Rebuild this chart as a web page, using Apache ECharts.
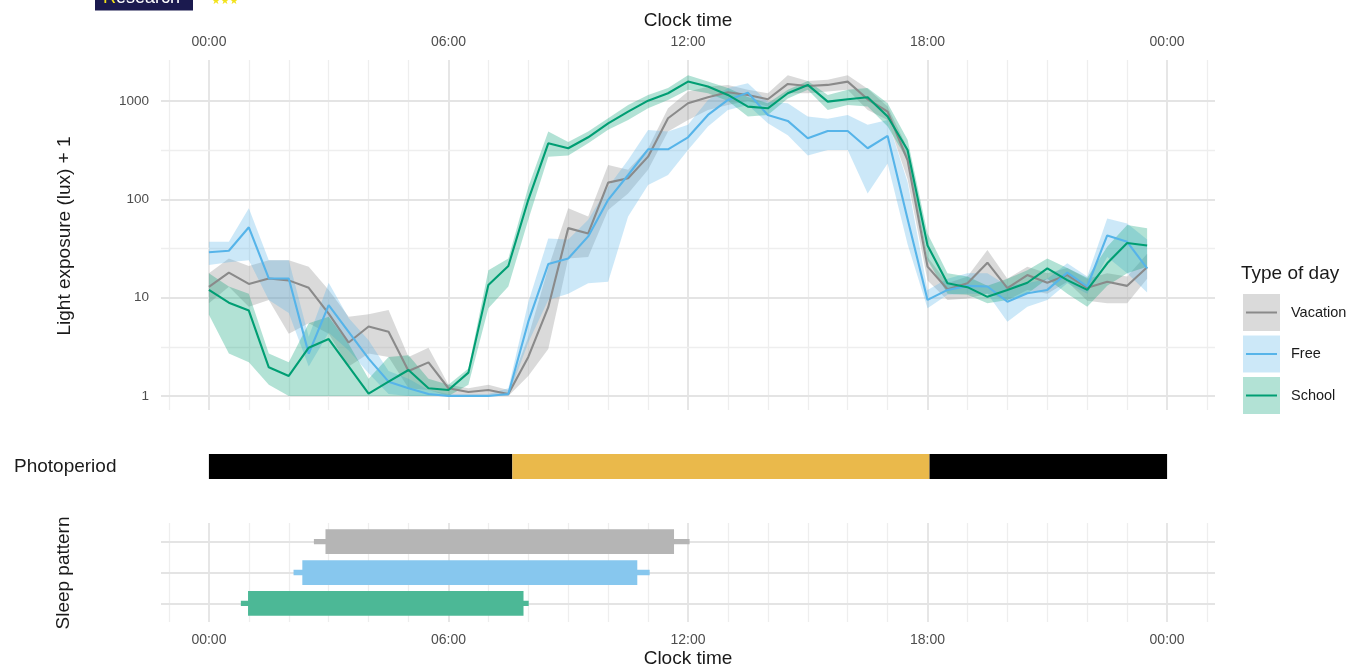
<!DOCTYPE html>
<html>
<head>
<meta charset="utf-8">
<script src="https://cdn.jsdelivr.net/npm/echarts@6/dist/echarts.min.js"></script>
<style>
  html, body { margin: 0; padding: 0; background: #ffffff; }
  #chart { width: 1348px; height: 668px; }
</style>
</head>
<body>
<div id="chart"></div>
<script>
// Half-hourly clock times (hours after midnight)
const hours = [0,0.5,1,1.5,2,2.5,3,3.5,4,4.5,5,5.5,6,6.5,7,7.5,8,8.5,9,9.5,10,10.5,11,11.5,
               12,12.5,13,13.5,14,14.5,15,15.5,16,16.5,17,17.5,18,18.5,19,19.5,20,20.5,21,21.5,22,22.5,23,23.5];

// Light exposure (lux + 1): mean and confidence band per type of day
const vacationMean = [12.9,18,13.8,15.7,15,12.6,6.9,3.5,5.1,4.5,1.8,2.2,1.2,1.1,1.15,1.05,2.5,8,51,45,
                      148,164,272,668,949,1093,1228,1154,1043,1493,1425,1459,1577,1043,780,250,20.7,12.2,14,22.7,
                      12.5,17,14.2,17,12.6,14.5,13.2,20.4];
const vacationLow  = [8.8,12.9,8.1,9.5,4.3,5.5,4.3,2,2.7,2.5,1.2,1.15,1.0,1.0,1.0,1.0,1.6,3,25,26,
                      78,115,200,490,640,810,910,1000,880,1200,1200,1250,1300,810,640,160,15,9.5,9.8,11,
                      9.5,12,11,14.5,9.3,8.8,8.8,15.6];
const vacationHigh = [17.7,25,21,24,24,20.7,12,6.4,6.8,7.5,2.5,3.1,1.3,1.2,1.3,1.15,4,20,81,67,
                      224,200,331,844,1250,1400,1459,1300,1200,1830,1600,1650,1830,1330,880,330,26,14,16.4,30.5,
                      15.6,20.7,17.7,20,15.6,17.7,16.4,28];

const freeMean = [29,30,52,15.7,15.7,2.7,8.4,4.5,2.4,1.4,1.2,1.05,1.0,1.0,1.0,1.05,5.7,22,25,42,
                  99,177,323,323,428,722,1026,1218,722,628,418,496,496,331,442,63,9.5,12,13.2,13,
                  9.1,11.1,12,18,13,43,37,19.9];
const freeLow  = [21.5,23,24,9.5,7,2,4.4,2.9,1.7,1.05,1.0,1.0,1.0,1.0,1.0,1.0,3.5,9.5,11,14,
                  14.5,67,140,177,318,550,810,910,594,450,280,318,318,115,232,35,7.8,10.7,11,11,
                  5.7,8.1,9.5,14,11,26,17.7,11.3];
const freeHigh = [37,37,81,24,24,4,14.2,6.2,3.7,1.8,1.5,1.15,1.05,1.05,1.05,1.2,9,40,39,62,
                  134,252,508,490,573,1026,1360,1520,986,950,695,660,722,573,640,150,12,15.6,17.7,17.7,
                  13.2,14,15.6,22.4,16.4,64,57,39];

const schoolMean = [12,8.9,7.4,1.96,1.6,3.1,3.8,2.0,1.06,1.4,1.84,1.2,1.15,1.73,13.5,21,99,372,331,428,
                    594,780,1009,1200,1577,1403,1154,877,844,1200,1459,986,1043,1093,695,318,34,14,12.8,10.2,
                    12,14.2,19.9,15.1,12,22.4,36,34];
const schoolLow  = [6.7,2.7,2.2,1.3,1.0,1.0,1.0,1.0,1.0,1.0,1.0,1.0,1.0,1.3,7.8,13,62,272,280,372,
                    510,640,844,1026,1300,1200,1000,695,722,1060,1300,810,910,880,550,250,24,11,10.7,8.8,
                    9.5,11,15.6,11,8.1,13.2,17.7,20.7];
const schoolHigh = [17.7,13,11,2.7,2.2,5.5,6.4,3.4,1.5,2.5,2.6,1.5,1.3,1.9,19,25,134,490,384,490,
                    668,910,1154,1360,1830,1577,1360,1100,950,1300,1600,1154,1300,1360,950,405,45,17.7,16.4,13.2,
                    15.6,19,25,20,16,33,55,51];

// Photoperiod segments: [start hour, end hour, phase]
const photoperiod = [[0, 7.6, 'dark'], [7.6, 18.05, 'light'], [18.05, 24, 'dark']];

// Sleep pattern (hours): rows bottom to top = School, Free, Vacation
const sleepGroups  = ['School', 'Free', 'Vacation'];
const sleepOnset   = [0.98, 2.34, 2.92];
const sleepOffset  = [7.88, 10.73, 11.65];
const sleepRangeLo = [0.80, 2.12, 2.63];
const sleepRangeHi = [8.01, 11.04, 12.04];

// Axis ticks
const clockTicks = [0, 6, 12, 18, 24];
const lightGridValues = [1, 3.1623, 10, 31.623, 100, 316.23, 1000];
const hourGrid = [-1,0,1,2,3,4,5,6,7,8,9,10,11,12,13,14,15,16,17,18,19,20,21,22,23,24,25];

const FONT = '"Liberation Sans", Arial, Helvetica, sans-serif';
const X_MIN = -1.2, X_MAX = 25.2;

const COLORS = {
  Vacation: { line: '#8a8a8a', band: 'rgba(150,150,150,0.35)', bar: '#b5b5b5' },
  Free:     { line: '#56B4E9', band: 'rgba(86,180,233,0.30)',  bar: '#87c7ee' },
  School:   { line: '#009E73', band: 'rgba(0,158,115,0.30)',   bar: '#4cb896' }
};
const PHOTO_COLORS = { dark: '#000000', light: '#EAB94B' };

function clockLabel(v) {
  const h = ((Math.round(v) % 24) + 24) % 24;
  return (h < 10 ? '0' : '') + h + ':00';
}

const MAJOR = { color: '#e4e4e4', width: 1.8, type: 'solid' };
const MINOR = { color: '#eeeeee', width: 1.3, type: 'solid' };

function gridLineSeries(xIdx, yIdx, xs, ys, isMajorX, isMajorY) {
  const items = [];
  xs.forEach(v => items.push({ xAxis: v, lineStyle: isMajorX(v) ? MAJOR : MINOR }));
  ys.forEach(v => items.push({ yAxis: v, lineStyle: isMajorY(v) ? MAJOR : MINOR }));
  return {
    type: 'line', xAxisIndex: xIdx, yAxisIndex: yIdx, data: [], silent: true, z: 0,
    markLine: {
      z: 0, silent: true, animation: false, symbol: ['none', 'none'],
      label: { show: false }, emphasis: { disabled: true }, data: items
    }
  };
}

function ribbonSeries(name, low, high) {
  return {
    type: 'custom', name: name + ' band', xAxisIndex: 0, yAxisIndex: 0, z: 6, silent: true,
    data: hours.map((h, i) => [h, low[i], high[i]]),
    encode: { x: 0, y: [1, 2] },
    renderItem: function (params, api) {
      if (params.dataIndex !== 0) return null;
      const n = hours.length;
      const upper = [], lower = [];
      for (let j = 0; j < n; j++) {
        upper.push(api.coord([api.value(0, j), api.value(2, j)]));
        lower.push(api.coord([api.value(0, j), api.value(1, j)]));
      }
      return {
        type: 'polygon',
        shape: { points: upper.concat(lower.reverse()) },
        style: { fill: COLORS[name].band, stroke: null }
      };
    }
  };
}

function lineSeries(name, values) {
  return {
    type: 'line', name: name, xAxisIndex: 0, yAxisIndex: 0, z: 8,
    data: hours.map((h, i) => [h, values[i]]),
    showSymbol: false, symbol: 'none', silent: true,
    lineStyle: { color: COLORS[name].line, width: 2.1 }
  };
}

const clockAxisLabel = {
  customValues: clockTicks, formatter: clockLabel,
  fontSize: 14, color: '#4d4d4d', fontFamily: FONT
};

const chart = echarts.init(document.getElementById('chart'), null, { renderer: 'canvas' });

const legendRows = ['Vacation', 'Free', 'School'];
const legendGraphic = [];
legendGraphic.push({
  type: 'text', x: 1241, y: 274,
  style: { text: 'Type of day', fontSize: 19, fontFamily: FONT, fill: '#1a1a1a',
           align: 'left', verticalAlign: 'middle', textAlign: 'left', textVerticalAlign: 'middle' }
});
legendRows.forEach((name, k) => {
  const top = 294 + k * 41.5;
  legendGraphic.push({ type: 'rect', shape: { x: 1243, y: top, width: 37, height: 37 },
                       style: { fill: COLORS[name].band } });
  legendGraphic.push({ type: 'line', shape: { x1: 1246, y1: top + 18.5, x2: 1277, y2: top + 18.5 },
                       style: { stroke: COLORS[name].line, lineWidth: 2 } });
  legendGraphic.push({
    type: 'text', x: 1291, y: top + 18.5,
    style: { text: name, fontSize: 14.5, fontFamily: FONT, fill: '#1a1a1a',
             align: 'left', verticalAlign: 'middle', textAlign: 'left', textVerticalAlign: 'middle' }
  });
});

function label(text, x, y, size, opts) {
  return Object.assign({
    type: 'text', x: x, y: y,
    style: { text: text, fontSize: size, fontFamily: FONT, fill: '#1a1a1a',
             align: 'center', verticalAlign: 'middle', textAlign: 'center', textVerticalAlign: 'middle' }
  }, opts || {});
}

const titleGraphic = [
  label('Clock time', 688, 21, 19),
  label('Clock time', 688, 659, 19),
  label('Light exposure (lux) + 1', 65, 236, 19, { rotation: Math.PI / 2 }),
  label('Sleep pattern', 64, 573, 19, { rotation: Math.PI / 2 }),
  {
    type: 'text', x: 14, y: 467,
    style: { text: 'Photoperiod', fontSize: 19, fontFamily: FONT, fill: '#1a1a1a',
             align: 'left', verticalAlign: 'middle', textAlign: 'left', textVerticalAlign: 'middle' }
  },
  // publisher badge at the top edge
  { type: 'rect', shape: { x: 95, y: -12, width: 98, height: 22.5 }, style: { fill: '#1b1a4f' } },
  {
    type: 'text', x: 103, y: 7,
    style: { text: '{r|R}esearch', fontSize: 18, fontFamily: FONT, fill: '#ffffff',
             align: 'left', verticalAlign: 'bottom', textAlign: 'left', textVerticalAlign: 'bottom',
             rich: { r: { fill: '#f2e21a', fontSize: 18, fontFamily: FONT } } }
  },
  {
    type: 'text', x: 225, y: 6,
    style: { text: '★★★', fontSize: 10, fontFamily: 'DejaVu Sans', fill: '#f2e21a',
             align: 'center', verticalAlign: 'bottom', textAlign: 'center', textVerticalAlign: 'bottom' }
  }
];

const option = {
  animation: false,
  backgroundColor: '#ffffff',
  grid: [
    { left: 161, top: 60, width: 1054, height: 350 },
    { left: 161, top: 454, width: 1054, height: 25 },
    { left: 161, top: 523, width: 1054, height: 99 }
  ],
  xAxis: [
    { gridIndex: 0, type: 'value', min: X_MIN, max: X_MAX, position: 'top',
      axisLine: { show: false }, axisTick: { show: false }, splitLine: { show: false },
      axisLabel: Object.assign({ margin: 11 }, clockAxisLabel) },
    { gridIndex: 1, type: 'value', min: X_MIN, max: X_MAX, show: false },
    { gridIndex: 2, type: 'value', min: X_MIN, max: X_MAX, position: 'bottom',
      axisLine: { show: false }, axisTick: { show: false }, splitLine: { show: false },
      axisLabel: Object.assign({ margin: 11 }, clockAxisLabel) }
  ],
  yAxis: [
    { gridIndex: 0, type: 'log', logBase: 10, min: 0.721, max: 2615,
      axisLine: { show: false }, axisTick: { show: false }, splitLine: { show: false },
      axisLabel: {
        showMinLabel: false, showMaxLabel: false, margin: 12,
        fontSize: 13.5, color: '#4d4d4d', fontFamily: FONT,
        formatter: function (v) {
          const l = Math.log10(v);
          return Math.abs(l - Math.round(l)) < 1e-6 ? String(Math.round(v)) : '';
        }
      } },
    { gridIndex: 1, type: 'value', min: 0, max: 1, show: false },
    { gridIndex: 2, type: 'value', min: 0.4, max: 3.6, show: false }
  ],
  graphic: { elements: titleGraphic.concat(legendGraphic) },
  series: [
    gridLineSeries(0, 0, hourGrid, lightGridValues,
      v => v % 6 === 0, v => Math.abs(Math.log10(v) - Math.round(Math.log10(v))) < 1e-6),
    gridLineSeries(2, 2, hourGrid, [1, 2, 3], v => v % 6 === 0, v => true),

    ribbonSeries('Vacation', vacationLow, vacationHigh),
    ribbonSeries('Free', freeLow, freeHigh),
    ribbonSeries('School', schoolLow, schoolHigh),

    lineSeries('Vacation', vacationMean),
    lineSeries('Free', freeMean),
    lineSeries('School', schoolMean),

    {
      type: 'custom', name: 'Photoperiod', xAxisIndex: 1, yAxisIndex: 1, silent: true, z: 6,
      data: photoperiod.map(p => [p[0], p[1], p[2] === 'light' ? 1 : 0]),
      encode: { x: [0, 1] },
      renderItem: function (params, api) {
        const a = api.coord([api.value(0), 1]);
        const b = api.coord([api.value(1), 0]);
        return {
          type: 'rect',
          shape: { x: a[0], y: a[1], width: b[0] - a[0], height: b[1] - a[1] },
          style: { fill: api.value(2) === 1 ? PHOTO_COLORS.light : PHOTO_COLORS.dark }
        };
      }
    },

    {
      type: 'custom', name: 'Sleep', xAxisIndex: 2, yAxisIndex: 2, silent: true, z: 6,
      data: sleepGroups.map((g, i) => [sleepOnset[i], sleepOffset[i], sleepRangeLo[i], sleepRangeHi[i], i + 1]),
      encode: { x: [0, 1, 2, 3], y: 4 },
      renderItem: function (params, api) {
        const row = api.value(4);
        const color = COLORS[sleepGroups[params.dataIndex]].bar;
        const r0 = api.coord([api.value(2), row]);
        const r1 = api.coord([api.value(3), row]);
        const b0 = api.coord([api.value(0), row]);
        const b1 = api.coord([api.value(1), row]);
        const barH = api.size([0, 0.8])[1];
        const whiskerH = api.size([0, 0.17])[1];
        return {
          type: 'group',
          children: [
            { type: 'rect', shape: { x: r0[0], y: r0[1] - whiskerH / 2, width: r1[0] - r0[0], height: whiskerH },
              style: { fill: color } },
            { type: 'rect', shape: { x: b0[0], y: b0[1] - barH / 2, width: b1[0] - b0[0], height: barH },
              style: { fill: color } }
          ]
        };
      }
    }
  ]
};

chart.setOption(option);
</script>
</body>
</html>
